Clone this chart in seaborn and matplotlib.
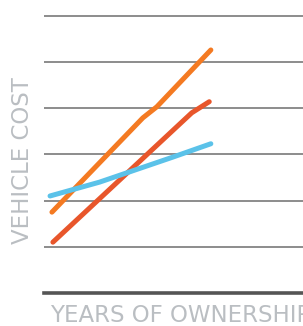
import pandas as pd
import numpy as np
import matplotlib.pyplot as plt
import seaborn as sns

# Values (x = years, y = cost in grid units)
orange_x = [0.0, 5.72, 6.6, 10.0]
orange_y = [1.75, 3.79, 4.03, 5.26]
red_x = [0.06, 8.8, 9.9]
red_y = [1.10, 3.90, 4.14]
blue_x = [-0.12, 3.0, 7.6, 10.0]
blue_y = [2.10, 2.40, 2.94, 3.23]
grid_levels = [1, 2, 3, 4, 5, 6]

df = pd.concat([
    pd.DataFrame({'years': orange_x, 'cost': orange_y, 'series': 'a'}),
    pd.DataFrame({'years': red_x, 'cost': red_y, 'series': 'b'}),
    pd.DataFrame({'years': blue_x, 'cost': blue_y, 'series': 'c'}),
])
palette = {'a': '#F47A22', 'b': '#E8562B', 'c': '#5BC2E9'}

sns.set_style("white")
plt.rcParams['font.family'] = ['DejaVu Sans']

fig = plt.figure(figsize=(3.03, 3.26), dpi=100)
ax = fig.add_axes([44 / 303, 33 / 326, 1 - 44 / 303, 280 / 326])

for y in grid_levels:
    ax.axhline(y, color='#6E6E6E', lw=1.1, zorder=1)

sns.lineplot(data=df, x='years', y='cost', hue='series', palette=palette,
             sort=False, estimator=None, legend=False, ax=ax,
             lw=3.6, solid_capstyle='round', zorder=3)

ax.set_xlim(-0.5, 15.8)
ax.set_ylim(0, 6.06)
for s in ['top', 'right', 'left']:
    ax.spines[s].set_visible(False)
ax.spines['bottom'].set_color('#555555')
ax.spines['bottom'].set_linewidth(2.6)
ax.set_xticks([])
ax.set_yticks([])
ax.set_xlabel('')
ax.set_ylabel('')

fig.text(50 / 303, 1 - 316 / 326, 'YEARS OF OWNERSHIP', color='#BABEC2',
         fontsize=16.5, ha='left', va='center')
fig.text(23 / 303, 1 - 161 / 326, 'VEHICLE COST', color='#BABEC2',
         fontsize=16.5, ha='center', va='center', rotation=90)

fig.savefig('out.png', dpi=100)
